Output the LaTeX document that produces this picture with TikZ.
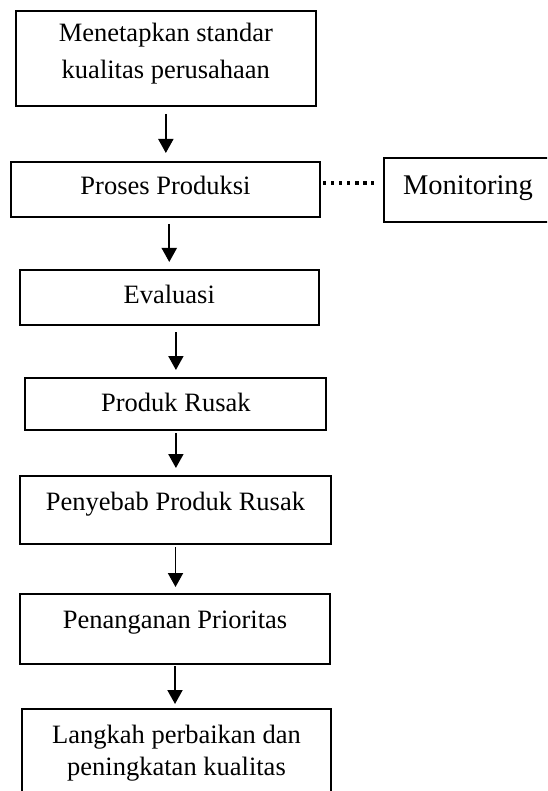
\documentclass[tikz,border=0pt]{standalone}
\usepackage{fontspec}
\setmainfont{Liberation Serif}
\usetikzlibrary{arrows.meta,calc}
\begin{document}
\begin{tikzpicture}[x=1pt,y=-1pt,
  box/.style={draw, line width=2pt, anchor=north west, inner sep=0pt},
  txt/.style={anchor=base, inner sep=0pt, font=\fontsize{26.5}{30}\selectfont},
  arr/.style={line width=1.9pt, -{Triangle[width=15pt,length=14pt]}},
  dotline/.style={line width=3.4pt, dash pattern=on 3.3pt off 4.75pt}]
\useasboundingbox (0,0) rectangle (547,791);
\clip (0,0) rectangle (547,791);
% boxes
\node[box, minimum width=300.3pt, minimum height=95pt] (b1) at (14.7,10) {};
\node[box, minimum width=309pt, minimum height=55pt] (b2) at (10,161) {};
\node[box, minimum width=200pt, minimum height=64pt] (mon) at (383,157) {};
\node[box, minimum width=298.5pt, minimum height=55pt] (b3) at (19,269) {};
\node[box, minimum width=301pt, minimum height=52pt] (b4) at (24.4,377) {};
\node[box, minimum width=311pt, minimum height=68pt] (b5) at (19,475) {};
\node[box, minimum width=310pt, minimum height=70pt] (b6) at (19,593) {};
\node[box, minimum width=309pt, minimum height=120pt] (b7) at (21,708) {};
% texts
\node[txt] (t1a) at (b1.north |- 0,42) {Menetapkan standar};
\node[txt] (t1b) at (b1.north |- 0,78.5) {kualitas perusahaan};
\node[txt] (t2) at (b2.north |- 0,195) {Proses Produksi};
\node[txt, font=\fontsize{28.5}{32}\selectfont] (tm) at (468,195) {Monitoring};
\node[txt] (t3) at (b3.north |- 0,303) {Evaluasi};
\node[txt] (t4) at (b4.north |- 0,411.7) {Produk Rusak};
\node[txt] (t5) at (b5.north |- 0,510) {Penyebab Produk Rusak};
\node[txt] (t6) at (b6.north |- 0,628.3) {Penanganan Prioritas};
\node[txt] (t7a) at (b7.north |- 0,743.3) {Langkah perbaikan dan};
\node[txt] (t7b) at (b7.north |- 0,775) {peningkatan kualitas};
% connectors
\draw[arr, shorten <=7pt, shorten >=8pt] (b1.south) -- (b1.south |- b2.north);
\draw[arr, shorten <=6pt, shorten >=7pt] (b3.north |- b2.south) -- (b3.north);
\draw[arr, shorten <=6pt, shorten >=7pt] (b4.north |- b3.south) -- (b4.north);
\draw[arr, shorten <=2pt, shorten >=7pt] (b4.south) -- (b4.south |- b5.north);
\draw[arr, shorten <=2pt, shorten >=6pt] (b5.south) -- (b5.south |- b6.north);
\draw[arr, shorten <=1pt, shorten >=4pt] (b6.south) -- (b6.south |- b7.north);
\draw[dotline, shorten <=2pt, shorten >=9pt] ([yshift=6.5pt]b2.east) -- ([yshift=6.5pt]b2.east -| mon.west);
\end{tikzpicture}
\end{document}
